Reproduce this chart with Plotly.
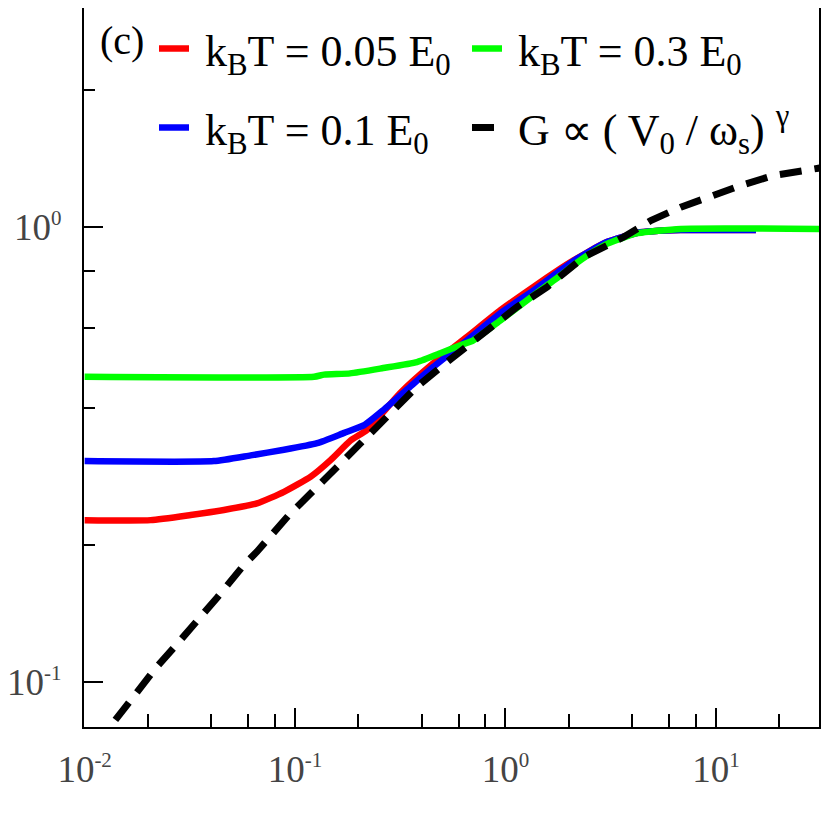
import plotly.graph_objects as go

# ---- data ----
red_x = [0.01, 0.0206, 0.0319, 0.0459, 0.0659, 0.0886, 0.1188, 0.1479, 0.1841, 0.2195,
         0.3162, 0.4539, 0.657, 0.9467, 1.359, 1.828, 2.108, 2.5, 3.05, 4.253, 6.81, 15.5]
red_y = [0.227, 0.227, 0.233, 0.239, 0.247, 0.262, 0.283, 0.308, 0.340, 0.358,
         0.432, 0.502, 0.574, 0.657, 0.739, 0.811, 0.845, 0.885, 0.928, 0.972, 0.985, 0.985]

blue_x = [0.01, 0.0411, 0.0615, 0.0886, 0.1273, 0.1712, 0.2131, 0.2624, 0.3527, 0.4539,
          0.657, 0.9467, 1.359, 1.828, 2.108, 2.5, 3.05, 4.253, 6.81, 15.5]
blue_y = [0.306, 0.306, 0.315, 0.324, 0.335, 0.353, 0.367, 0.396, 0.446, 0.493,
          0.564, 0.647, 0.726, 0.804, 0.843, 0.884, 0.928, 0.972, 0.985, 0.985]

green_x = [0.01, 0.1232, 0.1374, 0.1827, 0.2624, 0.3798, 0.4903, 0.6105, 0.7039, 0.9467,
           1.359, 1.828, 2.108, 2.5, 3.05, 4.253, 6.81, 31.6]
green_y = [0.469, 0.469, 0.474, 0.477, 0.490, 0.505, 0.528, 0.550, 0.564, 0.624,
           0.708, 0.783, 0.825, 0.872, 0.920, 0.970, 0.991, 0.991]

dash_x = [0.0140, 0.0165, 0.0191, 0.0220, 0.0265, 0.0306, 0.0356, 0.0425, 0.0494, 0.0572,
          0.0659, 0.0794, 0.0936, 0.1104, 0.1374, 0.1841, 0.2131, 0.2633, 0.3798, 0.5673,
          0.788, 1.137, 1.580, 2.352, 3.647, 4.903, 6.81, 9.13, 13.15, 18.89, 29.3, 31.6]
dash_y = [0.0826, 0.0914, 0.0997, 0.108, 0.1189, 0.1292, 0.1393, 0.1531, 0.1677, 0.181,
          0.1935, 0.2141, 0.233, 0.2513, 0.278, 0.318, 0.340, 0.376, 0.446, 0.519,
          0.583, 0.668, 0.739, 0.859, 0.951, 1.034, 1.106, 1.164, 1.235, 1.299, 1.344, 1.35]

NB = "\u00a0"
names = [NB + "k<sub>B</sub>T = 0.05 E<sub>0</sub>",
         NB + "k<sub>B</sub>T = 0.3 E<sub>0</sub>",
         NB + "k<sub>B</sub>T = 0.1 E<sub>0</sub>",
         NB + "G ∝ ( V<sub>0</sub> / ω<sub>s</sub>) <sup>γ</sup>"]

SUP = "<sup><span style='font-size:21px'>{}</span></sup>"
x_tickvals = [0.01, 0.1, 1, 10]
x_ticktext = ["10" + SUP.format(e) for e in ["-2", "-1", "0", "1"]]
x_minor = [0.02, 0.04, 0.06, 0.08, 0.2, 0.4, 0.6, 0.8, 2, 4, 6, 8, 20]
y_tickvals = [0.1, 1]
y_ticktext = ["10" + SUP.format(e) for e in ["-1", "0"]]
y_minor = [0.08, 0.2, 0.4, 0.6, 0.8, 2]

FONT = "Liberation Serif"

fig = go.Figure()
fig.add_trace(go.Scatter(x=red_x, y=red_y, mode="lines", name=names[0],
                         line=dict(color="#ff0000", width=6.5, shape="spline", smoothing=0.5),
                         legend="legend"))
fig.add_trace(go.Scatter(x=blue_x, y=blue_y, mode="lines", name=names[2],
                         line=dict(color="#0000ff", width=6.5, shape="spline", smoothing=0.5),
                         legend="legend3"))
fig.add_trace(go.Scatter(x=green_x, y=green_y, mode="lines", name=names[1],
                         line=dict(color="#00ff00", width=6.5, shape="spline", smoothing=0.5),
                         legend="legend2"))
fig.add_trace(go.Scatter(x=dash_x, y=dash_y, mode="lines", name=names[3],
                         line=dict(color="#000000", width=7, dash="22px,13px"),
                         legend="legend4"))

# page offset of the figure inside the browser window (body margin)
OFF = 8
L, R, T, B = 76, 19, 0, 111
PW, PH = 830 - L - R, 830 - T - B

def px(X):
    return (X - OFF - L) / PW

def py(Y):
    return 1 - (Y - OFF - T) / PH

leg_common = dict(font=dict(family=FONT, size=44, color="black"),
                  bgcolor="rgba(0,0,0,0)", xanchor="left", yanchor="middle",
                  orientation="v", borderwidth=0)

axis_common = dict(type="log", showgrid=False, zeroline=False, automargin=False,
                   showline=True, linecolor="black", linewidth=2, mirror=True,
                   ticks="inside", ticklen=19, tickwidth=2, tickcolor="black",
                   tickfont=dict(family=FONT, size=37, color="#444"))

fig.update_layout(
    width=830, height=830,
    margin=dict(l=L, r=R, t=T, b=B),
    paper_bgcolor="white", plot_bgcolor="white",
    showlegend=True,
    legend=dict(x=px(154), y=py(49), **leg_common),
    legend2=dict(x=px(467), y=py(49), **leg_common),
    legend3=dict(x=px(154), y=py(128), **leg_common),
    legend4=dict(x=px(467), y=py(128), **leg_common),
    xaxis=dict(range=[-2.003, 1.49], tickvals=x_tickvals, ticktext=x_ticktext,
               ticklabelstandoff=9,
               minor=dict(tickvals=x_minor, ticks="inside", ticklen=13,
                          tickwidth=2, tickcolor="black", showgrid=False),
               **axis_common),
    yaxis=dict(range=[-1.0986, 0.4815], tickvals=y_tickvals, ticktext=y_ticktext,
               ticklabelstandoff=13,
               minor=dict(tickvals=y_minor, ticks="inside", ticklen=11,
                          tickwidth=2, tickcolor="black", showgrid=False),
               **axis_common),
    annotations=[dict(text="(c)", x=px(122), y=py(40), xref="paper", yref="paper",
                      showarrow=False, font=dict(family=FONT, size=40, color="black"),
                      xanchor="center", yanchor="middle")],
)

fig.write_html("out.html")
